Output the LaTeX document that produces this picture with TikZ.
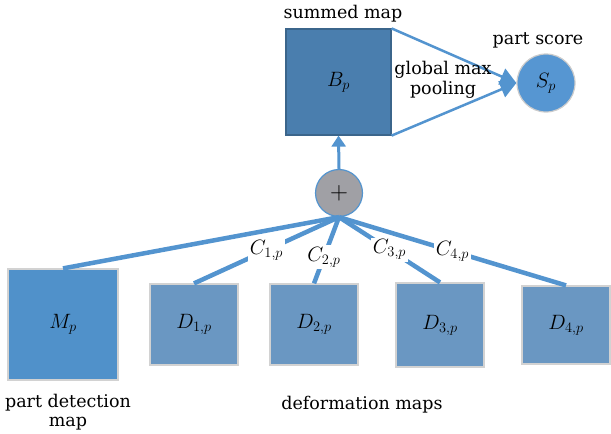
\documentclass[tikz,border=0pt]{standalone}
\usepackage{tikz}
\usetikzlibrary{shapes.geometric, arrows.meta, positioning, calc}
\usepackage{amsmath}
\usepackage{fontspec}
\setmainfont{DejaVu Serif}

\definecolor{sumblue}{RGB}{74,126,174}
\definecolor{detblue}{RGB}{80,145,202}
\definecolor{defblue}{RGB}{106,151,194}
\definecolor{scoreblue}{RGB}{86,150,210}
\definecolor{linkblue}{RGB}{83,148,207}
\definecolor{plusgray}{RGB}{160,160,165}

\begin{document}
\begin{tikzpicture}[x=1pt, y=-1pt,
    mapbox/.style={draw=gray!35, line width=1.2pt, inner sep=0pt, font=\fontsize{21}{24}\selectfont},
    txt/.style={font=\fontsize{17.5}{19.5}\selectfont, align=center, inner sep=1pt, text=black},
    link/.style={linkblue, line width=4.5pt},
    pool/.style={linkblue, line width=2.5pt, -{Triangle[length=16pt, width=17pt]}},
    lab/.style={fill=white, inner sep=2pt, text=black, font=\fontsize{20}{22}\selectfont}]
    \useasboundingbox (0,0) rectangle (611,434);

    % Summed map
    \node[mapbox, draw=sumblue!80!black, fill=sumblue, minimum width=105pt, minimum height=106pt] (bp) at (338.5, 82) {$B_p$};
    \node[txt] (bplab) at (343, 14) {summed map};

    % Part score
    \node[circle, draw=gray!40, line width=1.2pt, fill=scoreblue, minimum size=58pt, inner sep=0pt, font=\fontsize{21}{24}\selectfont] (sp) at (546, 83) {$S_p$};
    \node[txt] (splab) at (538, 40) {part score};

    % Sum
    \node[circle, draw=linkblue, line width=1.2pt, fill=plusgray, minimum size=47pt, inner sep=0pt, font=\fontsize{24}{26}\selectfont] (plus) at (339, 193) {$+$};

    % Part detection map
    \node[mapbox, fill=detblue, minimum width=110pt, minimum height=111pt] (mp) at (63, 324.5) {$M_p$};
    \node[txt] (mplab) at (68, 412) {part detection\\map};

    % Deformation maps
    \node[mapbox, fill=defblue, minimum width=88pt, minimum height=81pt] (d1) at (194, 324.5) {$D_{1,p}$};
    \node[mapbox, fill=defblue, minimum width=88pt, minimum height=81pt] (d2) at (314, 324.5) {$D_{2,p}$};
    \node[mapbox, fill=defblue, minimum width=88pt, minimum height=84pt] (d3) at (440, 325) {$D_{3,p}$};
    \node[mapbox, fill=defblue, minimum width=88pt, minimum height=78pt] (d4) at (566, 325) {$D_{4,p}$};
    \node[txt] (dlab) at (362, 405) {deformation maps};

    % Connectors
    \draw[link] (plus.south) -- (mp.north);
    \draw[link] (plus.south) -- node[lab, pos=0.5] (c1) {$C_{1,p}$} (d1.north);
    \draw[link] (plus.south) -- node[lab, pos=0.6] (c2) {$C_{2,p}$} (d2.north);
    \draw[link] (plus.south) -- node[lab, pos=0.5] (c3) {$C_{3,p}$} (d3.north);
    \draw[link] (plus.south) -- node[lab, pos=0.5] (c4) {$C_{4,p}$} (d4.north);

    \draw[linkblue, line width=3pt, -{Triangle[length=11pt, width=14pt]}] (plus.north) -- (bp.south);
    \draw[pool] (bp.north east) -- (sp.west);
    \draw[pool] (bp.south east) -- (sp.west);
    \node[txt] (poollab) at (443, 80) {global max\\pooling};
\end{tikzpicture}
\end{document}
